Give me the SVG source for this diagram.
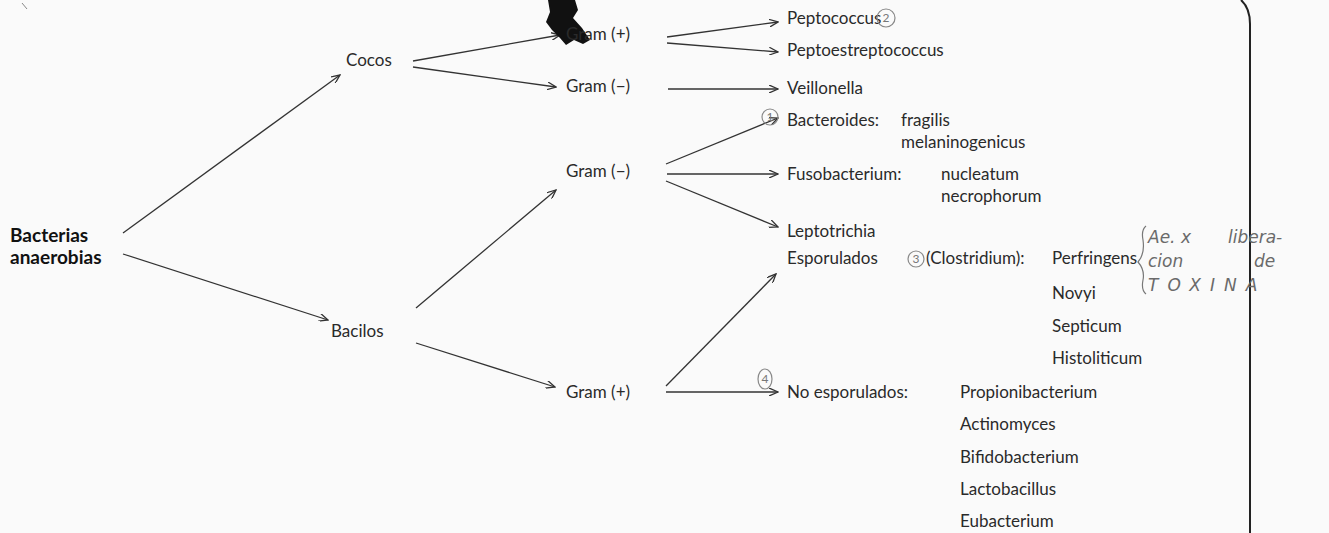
<svg xmlns="http://www.w3.org/2000/svg" width="1329" height="533" viewBox="0 0 1329 533">
<style>
text{font-family:Lato,"Open Sans","Liberation Sans",sans-serif;font-size:17px;fill:#2a2a2a}
.b{font-weight:bold;font-size:19px;fill:#111}
.hw{font-family:"DejaVu Sans",sans-serif;font-style:italic;font-size:17px;fill:#6a6a6a}
.circ{fill:none;stroke:#888;stroke-width:1.2}
.cn{font-size:12px;fill:#777;text-anchor:middle}
#connectors line{stroke:#333;stroke-width:1.3;marker-end:url(#ah)}
</style>
<defs>
<marker id="ah" viewBox="0 0 10 8" refX="9" refY="4" markerWidth="10" markerHeight="8" markerUnits="userSpaceOnUse" orient="auto">
<path d="M0,0 L9,4 L0,8" fill="none" stroke="#333" stroke-width="1.3"/>
</marker>
</defs>
<rect width="1329" height="533" fill="#fafafa"/>
<path d="M22,3 L27,9" stroke="#888" stroke-width="1"/>
<path d="M1241,0 Q1250,8 1250,24 L1250,533" fill="none" stroke="#222" stroke-width="2"/>
<g id="connectors">
<line x1="123" y1="233" x2="340" y2="75"/>
<line x1="123" y1="254" x2="328" y2="320"/>
<line x1="413" y1="61" x2="560" y2="35"/>
<line x1="413" y1="67" x2="556" y2="87"/>
<line x1="667" y1="37" x2="778" y2="22"/>
<line x1="667" y1="43" x2="778" y2="52"/>
<line x1="668" y1="89" x2="778" y2="89"/>
<line x1="416" y1="308" x2="556" y2="190"/>
<line x1="416" y1="343" x2="555" y2="387"/>
<line x1="666" y1="164" x2="778" y2="118"/>
<line x1="667" y1="174" x2="778" y2="174"/>
<line x1="666" y1="181" x2="778" y2="227"/>
<line x1="666" y1="386" x2="776" y2="274"/>
<line x1="666" y1="392" x2="778" y2="392"/>
</g>
<path id="blot" d="M548,0 L575,0 L578,10 L573,18 L582,28 L590,40 L583,44 L574,40 L566,45 L560,38 L552,30 L546,22 L550,12 Z" fill="#111"/>
<g id="bacterias"><text class="b" x="10" y="242">Bacterias</text><text class="b" x="10" y="264">anaerobias</text></g>
<g id="cocos"><text x="346" y="66">Cocos</text></g>
<g id="bacilos"><text x="331" y="337">Bacilos</text></g>
<g id="cocos-gram-pos"><text x="566" y="40">Gram (+)</text></g>
<g id="cocos-gram-neg"><text x="566" y="92">Gram (−)</text></g>
<g id="bacilos-gram-neg"><text x="566" y="177">Gram (−)</text></g>
<g id="bacilos-gram-pos"><text x="566" y="398">Gram (+)</text></g>
<g id="peptococcus"><text x="787" y="24">Peptococcus</text><circle class="circ" cx="886" cy="18" r="9"/><text class="cn" x="886" y="22">2</text></g>
<g id="peptoestreptococcus"><text x="787" y="56">Peptoestreptococcus</text></g>
<g id="veillonella"><text x="787" y="94">Veillonella</text></g>
<g id="bacteroides"><circle class="circ" cx="770" cy="117" r="8"/><text class="cn" x="770" y="121">1</text><text x="787" y="126">Bacteroides:</text><text x="901" y="126">fragilis</text><text x="901" y="148">melaninogenicus</text></g>
<g id="fusobacterium"><text x="787" y="180">Fusobacterium:</text><text x="941" y="180">nucleatum</text><text x="941" y="202">necrophorum</text></g>
<g id="leptotrichia"><text x="787" y="237">Leptotrichia</text></g>
<g id="esporulados"><text x="787" y="264">Esporulados</text><circle class="circ" cx="916" cy="259" r="8"/><text class="cn" x="916" y="263">3</text><text x="926" y="264">(Clostridium):</text><text x="1052" y="264">Perfringens</text><text x="1052" y="299">Novyi</text><text x="1052" y="332">Septicum</text><text x="1052" y="364">Histoliticum</text></g>
<g id="no-esporulados"><ellipse class="circ" cx="765" cy="379" rx="7" ry="10"/><text class="cn" x="765" y="383">4</text><text x="787" y="398">No  esporulados:</text><text x="960" y="398">Propionibacterium</text><text x="960" y="430">Actinomyces</text><text x="960" y="463">Bifidobacterium</text><text x="960" y="495">Lactobacillus</text><text x="960" y="527">Eubacterium</text></g>
<g id="nota"><path d="M1146,226 Q1141,230 1143,240 Q1145,254 1138,262 Q1145,270 1143,280 Q1141,290 1146,294" fill="none" stroke="#777" stroke-width="1.2"/><text class="hw" x="1148" y="243">Ae. x <tspan x="1228">libera-</tspan></text><text class="hw" x="1148" y="267">cion <tspan x="1254">de</tspan></text><text class="hw" x="1148" y="291" letter-spacing="9">TOXINA</text></g>
</svg>
